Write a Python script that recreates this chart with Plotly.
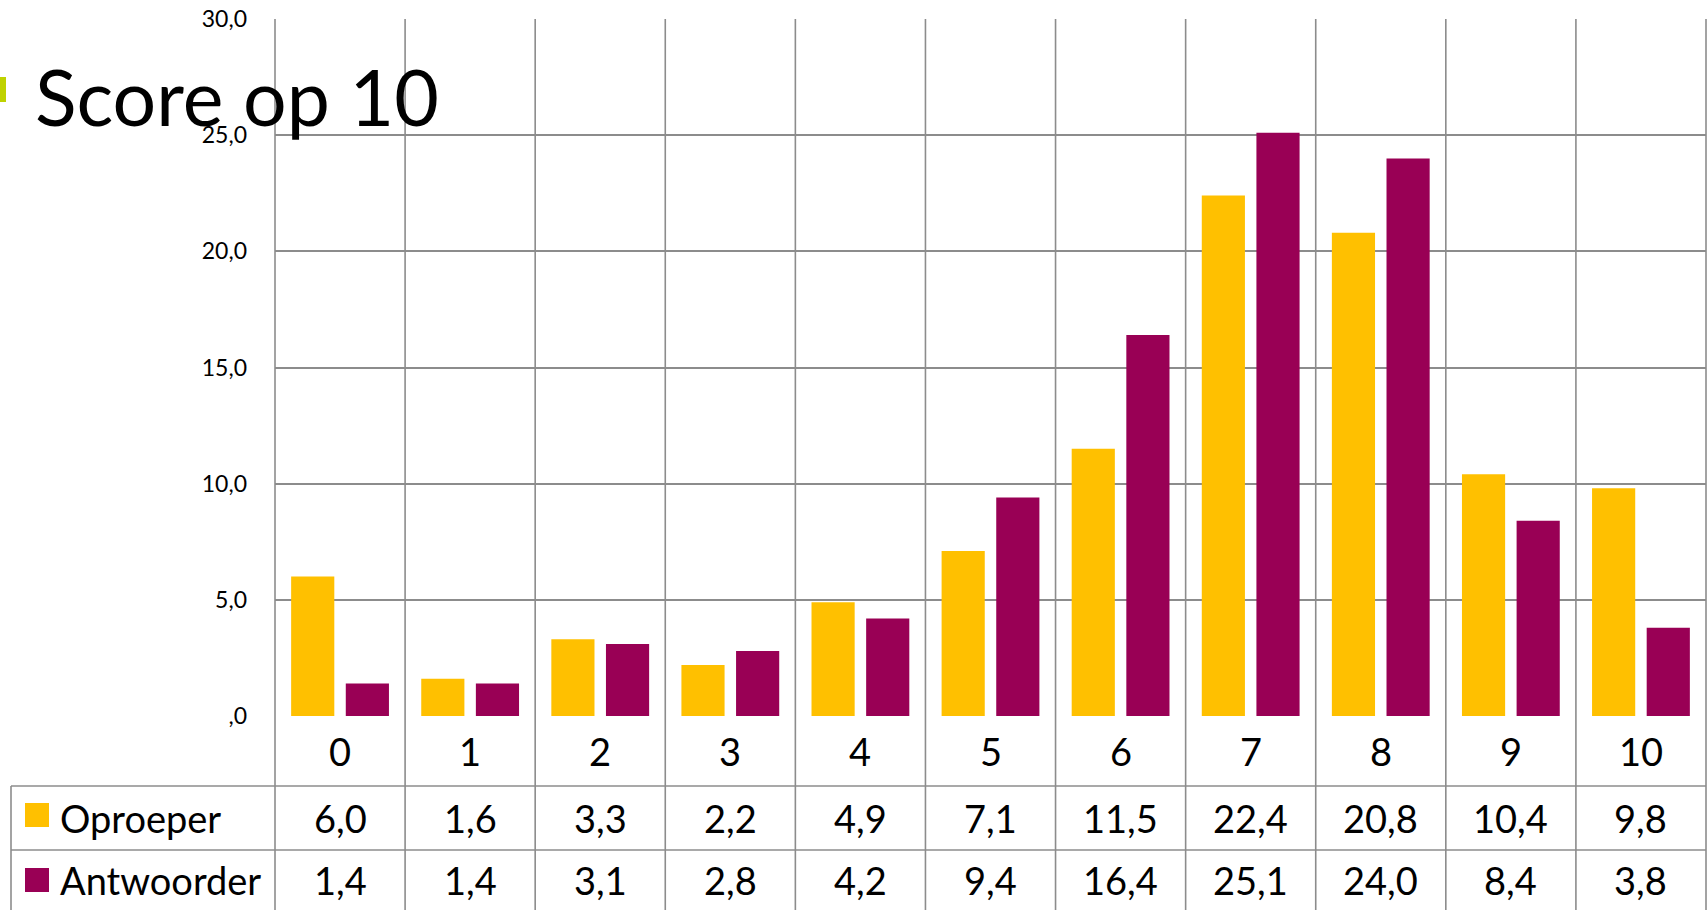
import plotly.graph_objects as go

# ---- data ----
categories = ["0", "1", "2", "3", "4", "5", "6", "7", "8", "9", "10"]
oproeper = [6.0, 1.6, 3.3, 2.2, 4.9, 7.1, 11.5, 22.4, 20.8, 10.4, 9.8]
antwoorder = [1.4, 1.4, 3.1, 2.8, 4.2, 9.4, 16.4, 25.1, 24.0, 8.4, 3.8]
series_names = ["Oproeper", "Antwoorder"]
y_tickvals = [0, 5, 10, 15, 20, 25, 30]
y_ticktext = [",0", "5,0", "10,0", "15,0", "20,0", "25,0", "30,0"]
title_text = "Score op 10"

# ---- style / layout ----
W, H = 1708, 910
ML, MR, MT, MB = 275, 2, 19, 194
PW, PH = W - ML - MR, H - MT - MB
COLORS = ["#FFC000", "#990055"]
GRID = "#8C8C8C"
FONT = "Lato"
n = len(categories)
x_range = [-0.5, n - 0.5]


def px_to_py(py):  # pixel y -> paper y
    return (H - MB - py) / PH


def px_to_px(px):  # pixel x -> paper x
    return (px - ML) / PW


def cat_to_paper(x):
    return (x - x_range[0]) / (x_range[1] - x_range[0])


fig = go.Figure()
for name, vals, col in zip(series_names, [oproeper, antwoorder], COLORS):
    fig.add_trace(go.Bar(x=list(range(n)), y=vals, name=name,
                         marker=dict(color=col, line=dict(width=0)),
                         showlegend=False))

shapes = []
# vertical lines at category boundaries (plot + table)
for i in range(n + 1):
    xp = cat_to_paper(i - 0.5)
    shapes.append(dict(type="line", xref="paper", yref="paper",
                       x0=xp, x1=xp, y0=1, y1=px_to_py(H + 5),
                       line=dict(color=GRID, width=1.6), layer="above"))
# table horizontal lines
row_lines = [786, 850]
for ry in row_lines:
    shapes.append(dict(type="line", xref="paper", yref="paper",
                       x0=px_to_px(11), x1=1, y0=px_to_py(ry), y1=px_to_py(ry),
                       line=dict(color=GRID, width=1.6), layer="above"))
# left border of legend column
shapes.append(dict(type="line", xref="paper", yref="paper",
                   x0=px_to_px(11), x1=px_to_px(11), y0=px_to_py(786), y1=px_to_py(H + 5),
                   line=dict(color=GRID, width=1.6), layer="above"))
# legend keys
key_rows = [(803, 827), (868, 892)]
for (y0, y1), col in zip(key_rows, COLORS):
    shapes.append(dict(type="rect", xref="paper", yref="paper",
                       x0=px_to_px(25), x1=px_to_px(49), y0=px_to_py(y1), y1=px_to_py(y0),
                       fillcolor=col, line=dict(width=0), layer="above"))
# green bullet
shapes.append(dict(type="rect", xref="paper", yref="paper",
                   x0=px_to_px(0), x1=px_to_px(6), y0=px_to_py(102), y1=px_to_py(77),
                   fillcolor="#BFD200", line=dict(width=0), layer="above"))

annotations = []
TFS = 38
# category row
for i, c in enumerate(categories):
    annotations.append(dict(x=i, xref="x", y=px_to_py(751), yref="paper", text=c,
                            showarrow=False, xanchor="center", yanchor="middle",
                            font=dict(family=FONT, size=TFS, color="black")))
# value rows
row_centers = [818, 880]
for vals, cy, name in zip([oproeper, antwoorder], row_centers, series_names):
    for i, v in enumerate(vals):
        annotations.append(dict(x=i, xref="x", y=px_to_py(cy), yref="paper",
                                text=f"{v:.1f}".replace(".", ","),
                                showarrow=False, xanchor="center", yanchor="middle",
                                font=dict(family=FONT, size=TFS, color="black")))
    annotations.append(dict(x=px_to_px(58), xref="paper", y=px_to_py(cy), yref="paper",
                            text=name, showarrow=False, xanchor="left", yanchor="middle",
                            font=dict(family=FONT, size=TFS, color="black")))
# title
annotations.append(dict(x=px_to_px(33), xref="paper", y=px_to_py(96), yref="paper",
                        text=title_text, showarrow=False, xanchor="left", yanchor="middle",
                        font=dict(family=FONT, size=77, color="black")))

fig.update_layout(
    width=W, height=H,
    margin=dict(l=ML, r=MR, t=MT, b=MB),
    paper_bgcolor="white", plot_bgcolor="white",
    barmode="group", bargap=0.16, bargroupgap=0.21,
    xaxis=dict(range=x_range, showticklabels=False, showgrid=False,
               zeroline=False, showline=False, fixedrange=True),
    yaxis=dict(range=[0, 30], tickvals=y_tickvals, ticktext=y_ticktext,
               showgrid=True, gridcolor=GRID, gridwidth=1.6, zeroline=False,
               showline=False, ticks="", ticklabelstandoff=27,
               tickfont=dict(family=FONT, size=23, color="black")),
    shapes=shapes, annotations=annotations,
    font=dict(family=FONT),
)

fig.write_html("out.html")
